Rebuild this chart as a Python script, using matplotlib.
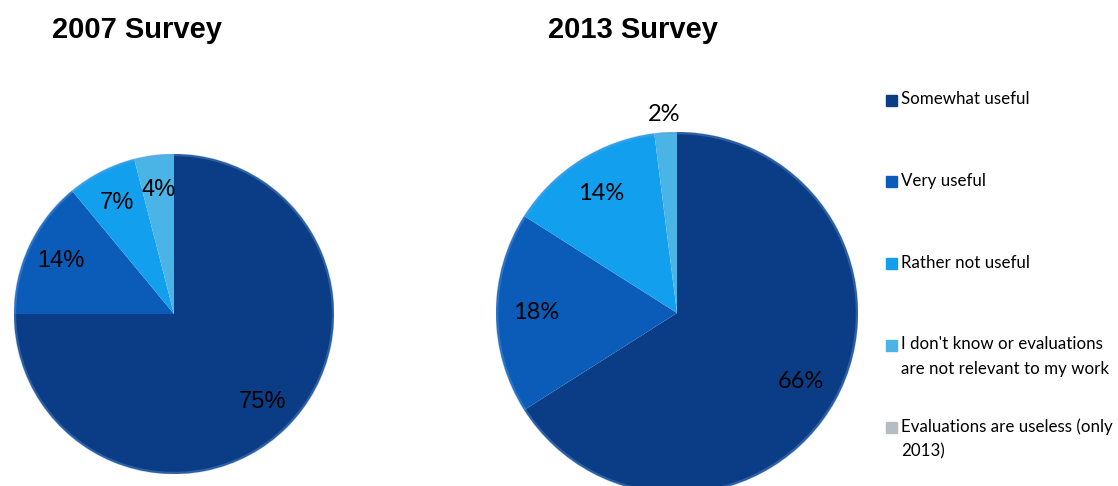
import matplotlib.pyplot as plt
from matplotlib.patches import Rectangle, Circle

# Survey answers (percent)
categories = ["Somewhat useful", "Very useful", "Rather not useful",
              "I don't know or evaluations\nare not relevant to my work",
              "Evaluations are useless (only\n2013)"]
values_2007 = [75, 14, 7, 4, 0]
values_2013 = [66, 18, 14, 2, 0]
colors = ["#0a3d86", "#0a5cb8", "#12a0ee", "#4ab4e6", "#b4bcc4"]

W, H = 1118, 486
fig = plt.figure(figsize=(W / 100, H / 100), dpi=100)


def px_axes(cx, cy, r):
    # axes box in pixels around a pie centre
    return fig.add_axes([(cx - r) / W, (H - cy - r) / H, 2 * r / W, 2 * r / H])


def draw_pie(ax, vals, font, size):
    vals_nz = [v for v in vals if v > 0]
    cols = [c for v, c in zip(vals, colors) if v > 0]
    wedges, _, texts = ax.pie(vals_nz, colors=cols, startangle=90, counterclock=False,
                              autopct="%d%%", pctdistance=0.78, radius=1,
                              wedgeprops=dict(linewidth=0),
                              textprops=dict(family=font, fontsize=size, color="black"))
    # soft light rim
    ax.add_patch(Circle((0, 0), 0.995, fill=False, lw=2, ec="#6f9fd8", alpha=0.35))
    # small slices get their label outside
    for w, t, v in zip(wedges, texts, vals_nz):
        if v < 3:
            x, y = t.get_position()
            t.set_position((x / 0.78 * 1.1, y / 0.78 * 1.1))
    ax.set_xlim(-1, 1)
    ax.set_ylim(-1, 1)
    ax.set_aspect("equal")
    ax.axis("off")


ax1 = px_axes(174, 314, 160)
draw_pie(ax1, values_2007, "Liberation Sans", 17)
ax2 = px_axes(677, 313, 181)
draw_pie(ax2, values_2013, "Lato", 17)

fig.text(137 / W, 1 - 38 / H, "2007 Survey", ha="center", va="baseline",
         family="Liberation Sans", fontweight="bold", fontsize=21)
fig.text(633 / W, 1 - 38 / H, "2013 Survey", ha="center", va="baseline",
         family="Liberation Sans", fontweight="bold", fontsize=21)

# legend on the right
legend_y = [100, 182, 264, 345, 427]
for lab, col, y in zip(categories, colors, legend_y):
    fig.patches.append(Rectangle((886 / W, 1 - (y + 5.5) / H), 11 / W, 11 / H,
                                 color=col, transform=fig.transFigure))
    fig.text(901 / W, 1 - (y - 9) / H, lab, ha="left", va="top",
             family="Lato", fontsize=12.2, linespacing=1.7)

fig.savefig("out.png", dpi=100)
